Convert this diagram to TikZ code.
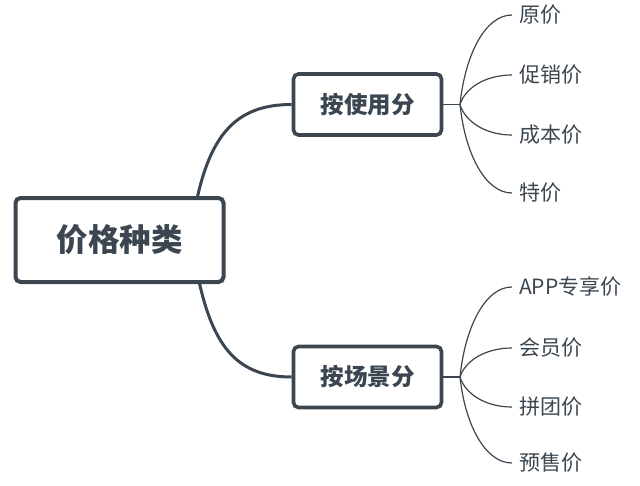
\documentclass[tikz,border=0pt]{standalone}
\usepackage{fontspec}
\setmainfont{Noto Sans CJK SC}
\definecolor{ink}{HTML}{3B4650}
\begin{document}
\begin{tikzpicture}[x=1pt,y=-1pt,
  rootbox/.style={draw=ink,line width=4pt,rounded corners=5pt,fill=white,minimum width=208pt,minimum height=84pt,inner sep=0pt,text=ink,font=\fontsize{31.5}{33}\selectfont\bfseries},
  midbox/.style={draw=ink,line width=3.6pt,rounded corners=5pt,fill=white,minimum width=148pt,minimum height=61pt,inner sep=0pt,text=ink,font=\fontsize{23.5}{25}\selectfont\bfseries},
  leaf/.style={anchor=west,inner sep=0pt,text=ink,font=\fontsize{21}{23}\selectfont},
  thick link/.style={draw=ink,line width=3pt},
  thin link/.style={draw=ink,line width=1.2pt}]
\useasboundingbox (0,0) rectangle (640,485);
\coordinate (rt) at (197,199);
\coordinate (rb) at (199,281);
\node[rootbox] (root) at (119.5,240) {价格种类};
\node[midbox] (use) at (367.5,104.5) {按使用分};
\node[midbox] (scene) at (367.5,377) {按场景分};
\draw[thick link] (rt) .. controls (212,130) and (240,104.5) .. (use.west);
\draw[thick link] (rb) .. controls (214,350) and (240,377) .. (scene.west);
\coordinate (ju) at (460,104.5);
\coordinate (js) at (460,377);
\draw[thin link] (use.east) -- (ju);
\draw[thin link] (scene.east) -- (js);
\foreach \name/\y/\t in {a/15/原价,b/75/促销价,c/135/成本价,d/193/特价}{
  \pgfmathsetmacro\cy{104.5+0.55*(\y-104.5)}
  \coordinate (e\name) at (512,\y);
  \node[leaf] (l\name) at (519,\y) {\t};
  \draw[thin link] (ju) .. controls (465,\cy) and (485,\y) .. (e\name);
}
\foreach \name/\y/\t in {p/287/APP专享价,q/348/会员价,r/407/拼团价,s/463/预售价}{
  \pgfmathsetmacro\cy{377+0.55*(\y-377)}
  \coordinate (e\name) at (512,\y);
  \node[leaf] (l\name) at (519,\y) {\t};
  \draw[thin link] (js) .. controls (465,\cy) and (485,\y) .. (e\name);
}
\end{tikzpicture}
\end{document}
